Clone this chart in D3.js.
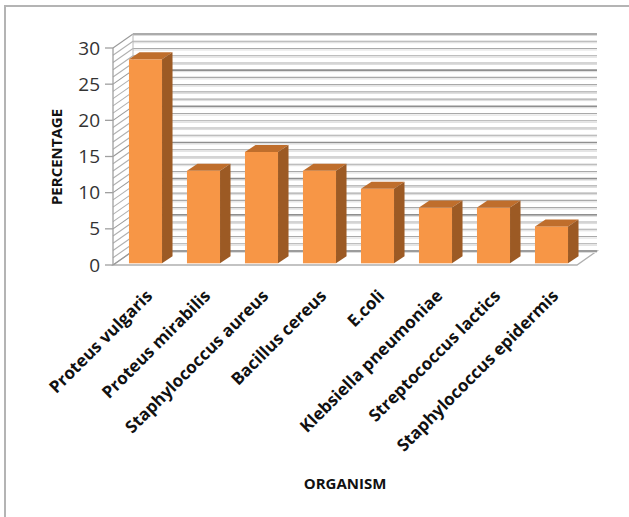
<!DOCTYPE html>
<html>
<head>
<meta charset="utf-8">
<title>Organism percentage</title>
<script src="https://cdn.jsdelivr.net/npm/d3@7"></script>
<style>
  body { margin: 0; background: #fff; }
  svg text { font-family: "Open Sans", Lato, sans-serif; }
  .tick-label { font-size: 19px; fill: #333; }
  .axis-title { font-size: 15px; font-weight: bold; fill: #111; }
  .cat-label { font-size: 17px; font-weight: bold; fill: #111; }
</style>
</head>
<body>
<svg id="chart" width="629" height="517"></svg>
<script>
// values
const organisms = ["Proteus vulgaris", "Proteus mirabilis", "Staphylococcus aureus", "Bacillus cereus",
                   "E.coli", "Klebsiella pneumoniae", "Streptococcus lactics", "Staphylococcus epidermis"];
const percentages = [28.2, 12.8, 15.4, 12.8, 10.3, 7.7, 7.7, 5.1];
const yTicks = [0, 5, 10, 15, 20, 25, 30];
const gridSteps = d3.range(0, 31, 1);

const svg = d3.select("#chart");

// outer frame
svg.append("path")
    .attr("d", "M5,517 V6 H629")
    .attr("fill", "none")
    .attr("stroke", "#b4b4b4")
    .attr("stroke-width", 2);

// front plane
const x = d3.scaleBand().domain(organisms).range([113, 577]).paddingInner(0.43).paddingOuter(0.215);
const y = d3.scaleLinear().domain([0, 30]).range([265, 48]);

// depth of the box and of the bars
const wallDx = 20, wallDy = -14;
const barShiftX = 3.5, barShiftY = -1.7;
const barDx = 10.5, barDy = -7;

const g = svg.append("g");

// floor
g.append("polygon")
    .attr("points", [[113, y(0)], [577, y(0)], [577 + wallDx, y(0) + wallDy], [113 + wallDx, y(0) + wallDy]].join(" "))
    .attr("fill", "#fff")
    .attr("stroke", "#b0b0b0")
    .attr("stroke-width", 1.3);

// back wall grid
gridSteps.forEach(v => {
    const major = v % 5 === 0;
    g.append("line")
        .attr("x1", 113 + wallDx).attr("x2", 577 + wallDx)
        .attr("y1", y(v) + wallDy).attr("y2", y(v) + wallDy)
        .attr("stroke", major ? "#8f8f8f" : "#a9a9a9")
        .attr("stroke-width", major ? 1.6 : 1.1);
    g.append("line")
        .attr("x1", 113 + wallDx).attr("x2", 577 + wallDx)
        .attr("y1", y(v) + wallDy + 1.5).attr("y2", y(v) + wallDy + 1.5)
        .attr("stroke", "#dcdcdc")
        .attr("stroke-width", 1);
    // side wall
    g.append("line")
        .attr("x1", 113).attr("x2", 113 + wallDx)
        .attr("y1", y(v)).attr("y2", y(v) + wallDy)
        .attr("stroke", major ? "#999" : "#b0b0b0")
        .attr("stroke-width", 1.1);
});

// back edge of side wall
g.append("line")
    .attr("x1", 113 + wallDx).attr("x2", 113 + wallDx)
    .attr("y1", y(30) + wallDy).attr("y2", y(0) + wallDy)
    .attr("stroke", "#b8b8b8");

// y axis
g.append("line")
    .attr("x1", 113).attr("x2", 113)
    .attr("y1", y(30)).attr("y2", y(0))
    .attr("stroke", "#a0a0a0")
    .attr("stroke-width", 1.3);

yTicks.forEach(t => {
    g.append("line")
        .attr("x1", 105).attr("x2", 113)
        .attr("y1", y(t)).attr("y2", y(t))
        .attr("stroke", "#a0a0a0")
        .attr("stroke-width", 1.3);
    g.append("text")
        .attr("class", "tick-label")
        .attr("x", 100).attr("y", y(t))
        .attr("dy", "0.35em")
        .attr("text-anchor", "end")
        .text(t);
});

// bars
const bars = g.selectAll(".bar").data(percentages).join("g").attr("class", "bar");
bars.each(function(d, i) {
    const el = d3.select(this);
    const x0 = x(organisms[i]) + barShiftX;
    const x1 = x0 + x.bandwidth();
    const yb = y(0) + barShiftY;
    const yt = y(d) + barShiftY;
    el.append("rect")
        .attr("x", x0).attr("y", yt)
        .attr("width", x.bandwidth()).attr("height", yb - yt)
        .attr("fill", "#f79646");
    el.append("polygon")
        .attr("points", [[x0, yt], [x1, yt], [x1 + barDx, yt + barDy], [x0 + barDx, yt + barDy]].join(" "))
        .attr("fill", "#bf6e2c");
    el.append("polygon")
        .attr("points", [[x1, yt], [x1 + barDx, yt + barDy], [x1 + barDx, yb + barDy], [x1, yb]].join(" "))
        .attr("fill", "#9c5a24");
});

// category labels
organisms.forEach(name => {
    const cx = x(name) + barShiftX + x.bandwidth() / 2 + 8;
    g.append("text")
        .attr("class", "cat-label")
        .attr("transform", `translate(${cx},297) rotate(-45)`)
        .attr("text-anchor", "end")
        .text(name);
});

// axis titles
svg.append("text")
    .attr("class", "axis-title")
    .attr("transform", "translate(62,157) rotate(-90)")
    .attr("text-anchor", "middle")
    .text("PERCENTAGE");

svg.append("text")
    .attr("class", "axis-title")
    .attr("x", 345).attr("y", 489)
    .attr("text-anchor", "middle")
    .text("ORGANISM");
</script>
</body>
</html>
